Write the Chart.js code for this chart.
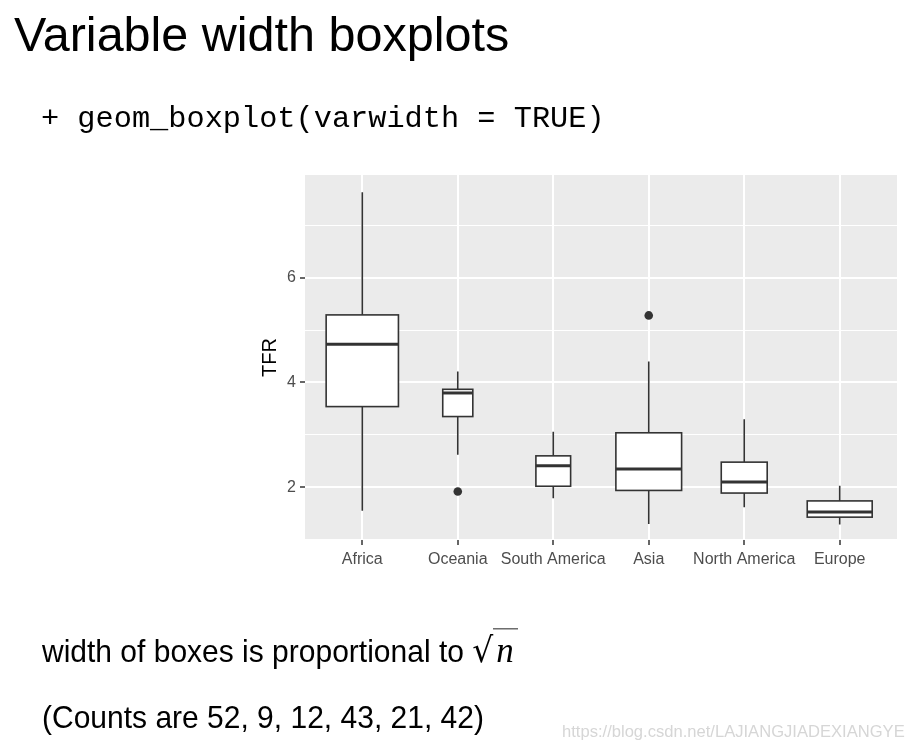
<!DOCTYPE html>
<html>
<head>
<meta charset="utf-8">
<script src="https://cdn.jsdelivr.net/npm/chart.js@4.4.0/dist/chart.umd.min.js"></script>
<style>
  html, body { margin: 0; padding: 0; background: #fff; }
  body { width: 911px; height: 747px; position: relative; overflow: hidden; }
  #wrap { position: absolute; left: 0; top: 0; width: 911px; height: 747px; }
  .t { position: absolute; white-space: nowrap; line-height: 1; color: #000; }
  #title { left: 14px; top: 6px; font: 48.5px "Liberation Sans", Arial, sans-serif; }
  #code { left: 41px; top: 102px; font: 30.3px "Liberation Mono", "Courier New", monospace; }
  #note1 { left: 42px; top: 631px; font: 30px "Liberation Sans", Arial, sans-serif; transform: scaleY(1.05); transform-origin: 0 85%; }
  #note2 { left: 42px; top: 701px; font: 30px "Liberation Sans", Arial, sans-serif; transform: scaleY(1.05); transform-origin: 0 85%; }
  #wm { left: 562px; top: 722px; font: 17px "Liberation Sans", Arial, sans-serif; color: #d6d6d6; transform: scaleX(0.975); transform-origin: 0 0; }
  .rad { font-family: "DejaVu Serif", serif; font-size: 33px; }
  .n { font-family: "Liberation Serif", "Times New Roman", serif; font-style: italic; border-top: 1.5px solid #000; padding: 0 4px 0 3px; font-size: 35px; }
</style>
</head>
<body>
<div id="wrap"><canvas id="c"></canvas></div>
<div class="t" id="title">Variable width boxplots</div>
<div class="t" id="code">+ geom_boxplot(varwidth = TRUE)</div>
<div class="t" id="note1">width of boxes is proportional to <span class="rad">√</span><span class="n">n</span></div>
<div class="t" id="note2">(Counts are 52, 9, 12, 43, 21, 42)</div>
<div class="t" id="wm">https://blog.csdn.net/LAJIANGJIADEXIANGYE</div>
<script>
// ---- data ----
const categories = ['Africa', 'Oceania', 'South America', 'Asia', 'North America', 'Europe'];
const counts = [52, 9, 12, 43, 21, 42];
const whiskerLow = [1.55, 2.62, 1.79, 1.30, 1.62, 1.29];
const q1 = [3.54, 3.35, 2.02, 1.94, 1.89, 1.43];
const median = [4.73, 3.80, 2.41, 2.35, 2.10, 1.53];
const q3 = [5.29, 3.87, 2.60, 3.04, 2.48, 1.74];
const whiskerHigh = [7.63, 4.21, 3.06, 4.40, 3.30, 2.03];
const outliers = [[], [1.92], [], [5.28], [], []];
const yMajorTicks = [2, 4, 6];
const yMinorTicks = [1, 3, 5, 7];
const yRange = [0.994, 7.96];

// ---- style ----
const PANEL_BG = '#EBEBEB';
const INK = '#333333';
const MAX_BOX_WIDTH = 0.757; // in category units for the largest group

const outlierPoints = [];
outliers.forEach((arr, i) => arr.forEach(v => outlierPoints.push({ x: i + 1, y: v })));
const maxSqrt = Math.sqrt(Math.max(...counts));

const panelPlugin = {
  id: 'panel',
  beforeDraw(chart) {
    const { ctx, chartArea: a } = chart;
    ctx.save();
    ctx.fillStyle = '#ffffff';
    ctx.fillRect(0, 0, chart.width, chart.height);
    ctx.fillStyle = PANEL_BG;
    ctx.fillRect(a.left, a.top, a.right - a.left, a.bottom - a.top);
    ctx.restore();
  }
};

const boxPlugin = {
  id: 'boxes',
  beforeDatasetsDraw(chart) {
    const { ctx, scales: { x, y } } = chart;
    ctx.save();
    ctx.strokeStyle = INK;
    categories.forEach((c, i) => {
      const cx = x.getPixelForValue(i + 1);
      const w = MAX_BOX_WIDTH * Math.sqrt(counts[i]) / maxSqrt;
      const xl = x.getPixelForValue(i + 1 - w / 2);
      const xr = x.getPixelForValue(i + 1 + w / 2);
      const yLo = y.getPixelForValue(whiskerLow[i]);
      const yQ1 = y.getPixelForValue(q1[i]);
      const yMed = y.getPixelForValue(median[i]);
      const yQ3 = y.getPixelForValue(q3[i]);
      const yHi = y.getPixelForValue(whiskerHigh[i]);
      ctx.lineWidth = 1.6;
      ctx.beginPath();
      ctx.moveTo(cx, yHi); ctx.lineTo(cx, yQ3);
      ctx.moveTo(cx, yQ1); ctx.lineTo(cx, yLo);
      ctx.stroke();
      ctx.fillStyle = '#ffffff';
      ctx.fillRect(xl, yQ3, xr - xl, yQ1 - yQ3);
      ctx.strokeRect(xl, yQ3, xr - xl, yQ1 - yQ3);
      ctx.lineWidth = 3;
      ctx.beginPath();
      ctx.moveTo(xl, yMed); ctx.lineTo(xr, yMed);
      ctx.stroke();
    });
    ctx.restore();
  }
};

new Chart(document.getElementById('c'), {
  type: 'scatter',
  data: {
    datasets: [{
      data: outlierPoints,
      pointRadius: 4.3,
      pointBackgroundColor: INK,
      pointBorderWidth: 0,
      pointHoverRadius: 4.3
    }]
  },
  options: {
    responsive: true,
    maintainAspectRatio: false,
    animation: false,
    events: [],
    layout: { padding: { left: 240, right: 14, top: 175, bottom: 167 } },
    plugins: { legend: { display: false }, tooltip: { enabled: false } },
    scales: {
      x: {
        type: 'linear',
        min: 0.4,
        max: 6.6,
        afterBuildTicks(scale) { scale.ticks = categories.map((c, i) => ({ value: i + 1 })); },
        afterFit(scale) { scale.height = 40; },
        border: { display: false },
        grid: { color: '#ffffff', lineWidth: 2, tickColor: INK, tickLength: 5, tickWidth: 1.5 },
        ticks: {
          callback: (v) => categories[Math.round(v) - 1] || '',
          color: '#4D4D4D',
          font: { family: '"Liberation Sans", Arial, sans-serif', size: 16 },
          padding: 5,
          maxRotation: 0,
          autoSkip: false
        }
      },
      y: {
        type: 'linear',
        min: yRange[0],
        max: yRange[1],
        afterBuildTicks(scale) {
          scale.ticks = [...yMajorTicks, ...yMinorTicks].sort((a, b) => a - b).map(v => ({ value: v }));
        },
        afterFit(scale) { scale.width = 65; },
        border: { display: false },
        grid: {
          color: '#ffffff',
          lineWidth: (ctx) => yMajorTicks.includes(ctx.tick.value) ? 2 : 1,
          tickColor: (ctx) => yMajorTicks.includes(ctx.tick.value) ? INK : 'rgba(0,0,0,0)',
          tickLength: 5,
          tickWidth: 1.5
        },
        ticks: {
          callback: (v) => yMajorTicks.includes(v) ? String(v) : '',
          color: '#4D4D4D',
          font: { family: '"Liberation Sans", Arial, sans-serif', size: 16 },
          padding: 4,
          autoSkip: false
        },
        title: {
          display: true,
          text: 'TFR',
          color: '#000000',
          font: { family: '"Liberation Sans", Arial, sans-serif', size: 20 },
          padding: { top: 18, bottom: 0 }
        }
      }
    }
  },
  plugins: [panelPlugin, boxPlugin]
});
</script>
</body>
</html>
